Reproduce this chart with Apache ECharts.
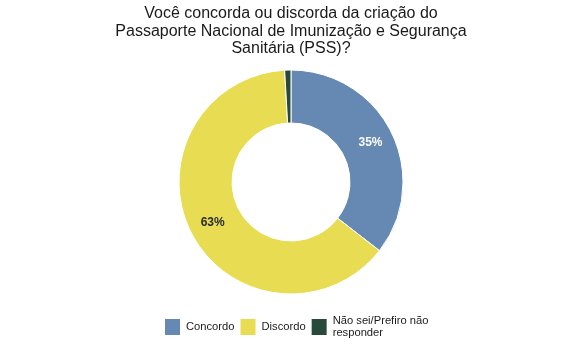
<!DOCTYPE html>
<html><head><meta charset="utf-8">
<script src="https://cdn.jsdelivr.net/npm/echarts@6/dist/echarts.min.js"></script>
<style>html,body{margin:0;padding:0;background:#fff}#c{width:575px;height:363px}</style>
</head><body><div id="c"></div>
<script>
const categories = ['Concordo', 'Discordo', 'Não sei/Prefiro não\nresponder'];
const values = [35.4, 63.4, 0.9];
const colors = ['#6689b3', '#e8dd52', '#274a3b'];
const labelColors = ['#ffffff', '#2b2b2b', '#ffffff'];
const titleText = 'Você concorda ou discorda da criação do\nPassaporte Nacional de Imunização e Segurança\nSanitária (PSS)?';

const chart = echarts.init(document.getElementById('c'));
chart.setOption({
  animation: false,
  title: {
    text: titleText, left: 291, top: 5, textAlign: 'center', padding: 0,
    textStyle: { fontFamily: 'Liberation Sans', fontSize: 16, fontWeight: 'normal', color: '#1a1a1a', lineHeight: 17.5 }
  },
  legend: {
    top: 315, left: 163, itemWidth: 17, itemHeight: 18, itemGap: 4, padding: 0,
    icon: 'rect',
    textStyle: { fontFamily: 'Liberation Sans', fontSize: 11.2, color: '#1a1a1a', lineHeight: 12 },
    data: categories
  },
  series: [{
    type: 'pie', center: [291, 182], radius: [59, 112], startAngle: 90, clockwise: true,
    itemStyle: { borderColor: '#ffffff', borderWidth: 1 },
    label: {
      position: 'inside', fontFamily: 'Liberation Sans', fontSize: 12, fontWeight: 'bold',
      formatter: p => p.value >= 5 ? Math.round(p.value) + '%' : ''
    },
    labelLine: { show: false },
    data: categories.map((c, i) => ({ name: c, value: values[i], itemStyle: { color: colors[i] }, label: { color: labelColors[i] } }))
  }]
});
</script></body></html>
